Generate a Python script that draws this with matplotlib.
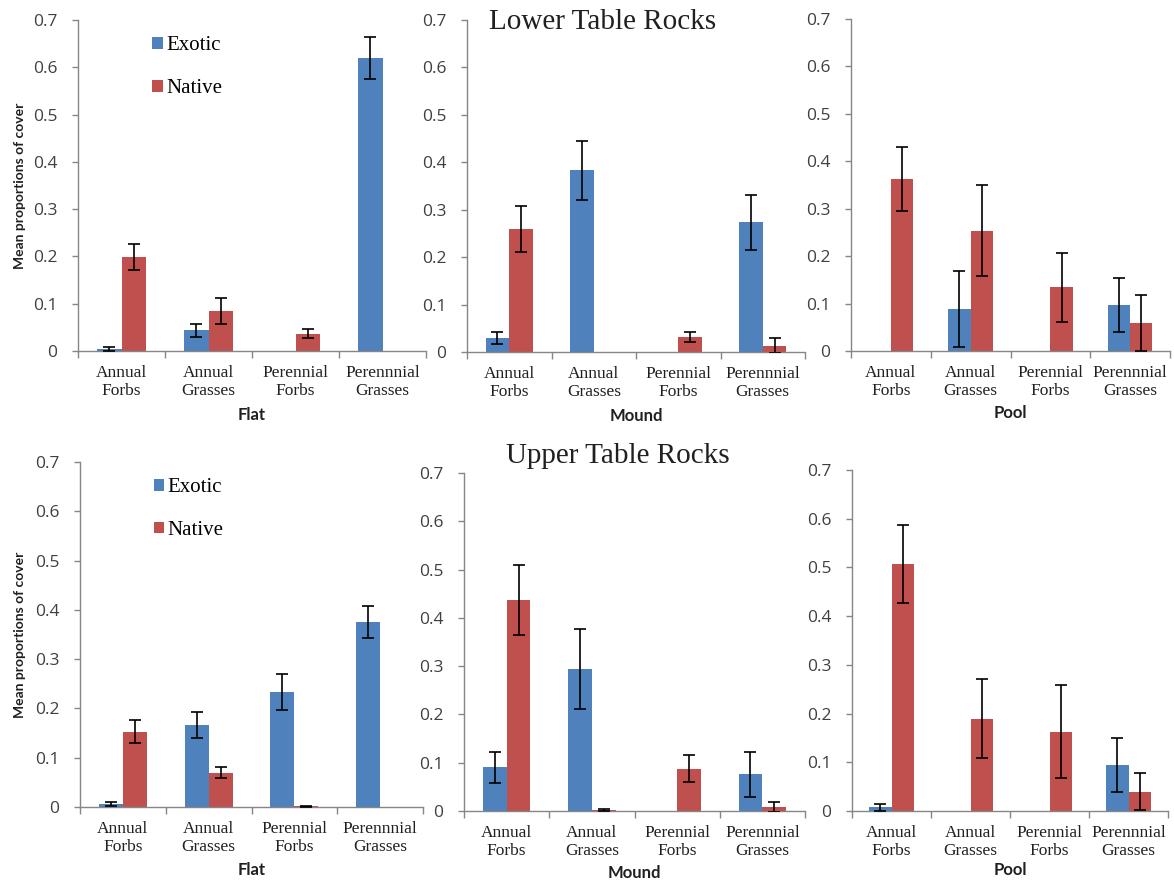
import numpy as np
import matplotlib
matplotlib.use("Agg")
import matplotlib.pyplot as plt
from matplotlib.ticker import FixedLocator, NullFormatter

# ---- data -------------------------------------------------------------
categories = ["Annual\nForbs", "Annual\nGrasses", "Perennial\nForbs", "Perennnial\nGrasses"]
habitats = ["Flat", "Mound", "Pool"]
sites = ["Lower Table Rocks", "Upper Table Rocks"]
y_ticks = [0, 0.1, 0.2, 0.3, 0.4, 0.5, 0.6, 0.7]
y_tick_labels = ["0", "0.1", "0.2", "0.3", "0.4", "0.5", "0.6", "0.7"]

# Lower Table Rocks
ltr_flat_exotic = [0.004, 0.044, 0.0, 0.619]
ltr_flat_exotic_se = [0.004, 0.014, 0.0, 0.044]
ltr_flat_native = [0.199, 0.085, 0.037, 0.0]
ltr_flat_native_se = [0.028, 0.028, 0.009, 0.0]

ltr_mound_exotic = [0.029, 0.383, 0.0, 0.274]
ltr_mound_exotic_se = [0.013, 0.062, 0.0, 0.058]
ltr_mound_native = [0.259, 0.0, 0.032, 0.013]
ltr_mound_native_se = [0.049, 0.0, 0.010, 0.016]

ltr_pool_exotic = [0.0, 0.089, 0.0, 0.097]
ltr_pool_exotic_se = [0.0, 0.080, 0.0, 0.057]
ltr_pool_native = [0.363, 0.254, 0.134, 0.059]
ltr_pool_native_se = [0.067, 0.095, 0.072, 0.060]

# Upper Table Rocks
utr_flat_exotic = [0.007, 0.166, 0.233, 0.375]
utr_flat_exotic_se = [0.004, 0.026, 0.037, 0.032]
utr_flat_native = [0.153, 0.070, 0.002, 0.0]
utr_flat_native_se = [0.024, 0.011, 0.001, 0.0]

utr_mound_exotic = [0.091, 0.294, 0.0, 0.076]
utr_mound_exotic_se = [0.032, 0.083, 0.0, 0.047]
utr_mound_native = [0.437, 0.003, 0.088, 0.008]
utr_mound_native_se = [0.073, 0.002, 0.027, 0.011]

utr_pool_exotic = [0.008, 0.0, 0.0, 0.094]
utr_pool_exotic_se = [0.007, 0.0, 0.0, 0.056]
utr_pool_native = [0.508, 0.189, 0.163, 0.040]
utr_pool_native_se = [0.080, 0.081, 0.096, 0.037]

panels = [
    [(ltr_flat_exotic, ltr_flat_exotic_se, ltr_flat_native, ltr_flat_native_se),
     (ltr_mound_exotic, ltr_mound_exotic_se, ltr_mound_native, ltr_mound_native_se),
     (ltr_pool_exotic, ltr_pool_exotic_se, ltr_pool_native, ltr_pool_native_se)],
    [(utr_flat_exotic, utr_flat_exotic_se, utr_flat_native, utr_flat_native_se),
     (utr_mound_exotic, utr_mound_exotic_se, utr_mound_native, utr_mound_native_se),
     (utr_pool_exotic, utr_pool_exotic_se, utr_pool_native, utr_pool_native_se)],
]

# ---- styling ----------------------------------------------------------
BLUE = "#4F81BD"
RED = "#C0504D"
AXIS_GREY = "#868686"
SERIF = ["Liberation Serif", "DejaVu Serif"]
SANS = ["Open Sans", "DejaVu Sans"]
BOLD_SANS = ["Lato", "DejaVu Sans"]

W, H = 1174, 882
fig = plt.figure(figsize=(W / 100, H / 100), dpi=100)

# axes boxes in pixels: left, top(0.7), right, bottom(0)
boxes = [
    [(78, 20, 426, 351), (467, 20, 805, 352), (851, 19, 1170, 351)],
    [(80, 462, 423, 807), (464, 473, 805, 811), (852, 470, 1168, 811)],
]
xlabel_y = [[415, 416, 413], [870, 873, 870]]
title_pos = [(603, 22), (618, 456)]

bar_w = 0.28
x = np.arange(len(categories))


def draw_errors(ax, xs, vals, errs):
    for xi, v, e in zip(xs, vals, errs):
        if e > 0:
            ax.errorbar(xi, v, yerr=e, fmt="none", ecolor="black",
                        elinewidth=1.2, capsize=4, capthick=1.2, zorder=3)


for r in range(2):
    for c in range(3):
        l, t, rt, b = boxes[r][c]
        ax = fig.add_axes([l / W, (H - b) / H, (rt - l) / W, (b - t) / H])
        ex, ex_se, na, na_se = panels[r][c]
        ax.bar(x - bar_w / 2, ex, width=bar_w, color=BLUE, label="Exotic", zorder=2)
        ax.bar(x + bar_w / 2, na, width=bar_w, color=RED, label="Native", zorder=2)
        draw_errors(ax, x - bar_w / 2, ex, ex_se)
        draw_errors(ax, x + bar_w / 2, na, na_se)

        ax.set_xlim(-0.5, len(categories) - 0.5)
        ax.set_ylim(0, 0.7)
        ax.set_yticks(y_ticks)
        ax.set_yticklabels(y_tick_labels, family=SANS, fontsize=12.5, color="#404040")

        ax.set_xticks(x)
        ax.set_xticklabels(categories, family=SERIF, fontsize=12.5, color="#202020",
                           linespacing=1.2)
        ax.xaxis.set_minor_locator(FixedLocator(np.arange(-0.5, len(categories), 1.0)))
        ax.xaxis.set_minor_formatter(NullFormatter())
        ax.tick_params(axis="x", which="major", length=0, pad=10)
        ax.tick_params(axis="x", which="minor", length=5, color=AXIS_GREY, width=1)
        ax.tick_params(axis="y", length=4, color=AXIS_GREY, width=1, pad=11)

        for side in ("top", "right"):
            ax.spines[side].set_visible(False)
        for side in ("left", "bottom"):
            ax.spines[side].set_color(AXIS_GREY)
            ax.spines[side].set_linewidth(1)

        # habitat label under each panel
        cx = (l + rt) / 2
        fig.text(cx / W, 1 - xlabel_y[r][c] / H, habitats[c], family=BOLD_SANS,
                 fontweight="bold", fontsize=12, ha="center", va="center", color="#202020")

        if c == 0:
            ax.legend(loc="upper left", bbox_to_anchor=(0.16, 1.008), frameon=False,
                      prop={"family": SERIF, "size": 15}, handlelength=0.5,
                      handleheight=0.5, handletextpad=0.15, labelspacing=1.15)
            ymid = (t + b) / 2
            fig.text(20 / W, 1 - ymid / H, "Mean proportions of cover", rotation=90,
                     family=BOLD_SANS, fontweight="bold", fontsize=10,
                     ha="center", va="center", color="#202020")

for (tx, ty), name in zip(title_pos, sites):
    fig.text(tx / W, 1 - ty / H, name, family=SERIF, fontsize=21,
             ha="center", va="center", color="#202020")

fig.savefig("out.png", dpi=100, facecolor="white")
